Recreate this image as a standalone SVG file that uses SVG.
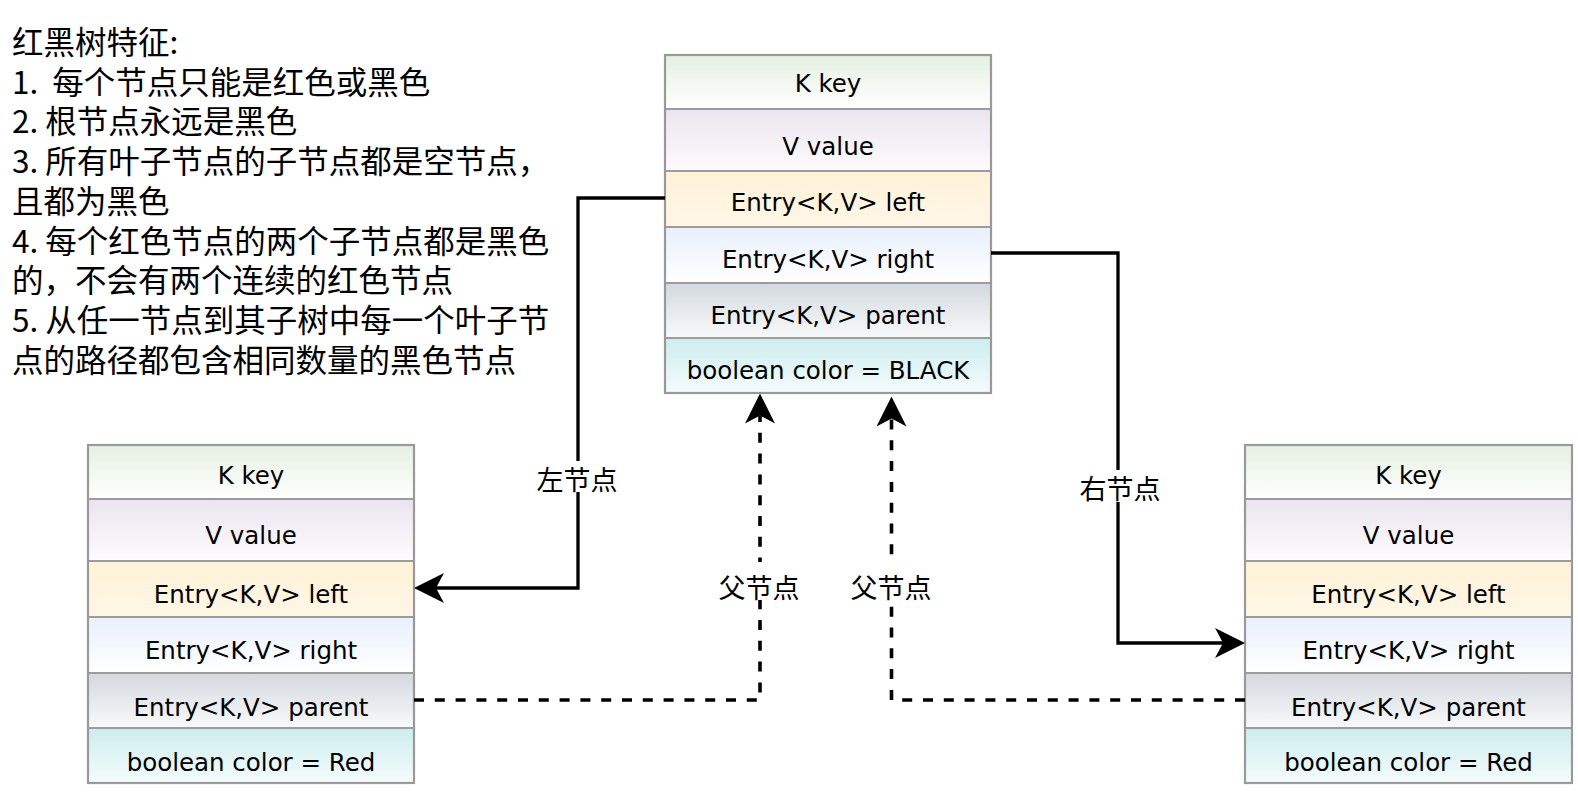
<svg xmlns="http://www.w3.org/2000/svg" width="1578" height="792" viewBox="0 0 1578 792">
<style>
.cell{font-family:"DejaVu Sans","Noto Sans",sans-serif;font-size:24.5px;fill:#000;text-anchor:middle}
.note{font-family:"Noto Sans CJK SC","Noto Sans",sans-serif;font-size:31.5px;fill:#000}
.lbl{font-family:"Noto Sans CJK SC","Noto Sans",sans-serif;font-size:27px;fill:#000;text-anchor:middle;dominant-baseline:central}
.sep{stroke:#9c9c9c;stroke-width:2;fill:none}
.border{stroke:#999;stroke-width:2.2;fill:none}
.solid{stroke:#000;stroke-width:3.3;fill:none}
.dash{stroke:#000;stroke-width:3.6;fill:none;stroke-dasharray:10 10.8}
</style>
<defs>
<linearGradient id="g1" x1="0" y1="0" x2="0" y2="1"><stop offset="0" stop-color="#e5f0e1"/><stop offset="1" stop-color="#ffffff"/></linearGradient>
<linearGradient id="g2" x1="0" y1="0" x2="0" y2="1"><stop offset="0" stop-color="#ebe4ef"/><stop offset="1" stop-color="#fdfcfd"/></linearGradient>
<linearGradient id="g3" x1="0" y1="0" x2="0" y2="1"><stop offset="0" stop-color="#fff2d7"/><stop offset="1" stop-color="#fff6e6"/></linearGradient>
<linearGradient id="g4" x1="0" y1="0" x2="0" y2="1"><stop offset="0" stop-color="#e8f0fc"/><stop offset="1" stop-color="#ffffff"/></linearGradient>
<linearGradient id="g5" x1="0" y1="0" x2="0" y2="1"><stop offset="0" stop-color="#d4d9df"/><stop offset="1" stop-color="#f8f9fa"/></linearGradient>
<linearGradient id="g6" x1="0" y1="0" x2="0" y2="1"><stop offset="0" stop-color="#cdedef"/><stop offset="1" stop-color="#f5fbfc"/></linearGradient>
<marker id="arr" viewBox="0 0 30 30" markerUnits="userSpaceOnUse" markerWidth="30" markerHeight="30" refX="8" refY="15" orient="auto">
<path d="M0,0 L30,15 L0,30 L8,15 Z" fill="#000" stroke="none"/>
</marker>
</defs>
<rect x="0" y="0" width="1578" height="792" fill="#fff"/>

<g id="notes">
<text class="note" xml:space="preserve"><tspan x="12" y="53.7">红黑树特征:</tspan><tspan x="12" y="93.5">1.  每个节点只能是红色或黑色</tspan><tspan x="12" y="133.2">2. 根节点永远是黑色</tspan><tspan x="12" y="173">3. 所有叶子节点的子节点都是空节点，</tspan><tspan x="12" y="212.7">且都为黑色</tspan><tspan x="12" y="252.5">4. 每个红色节点的两个子节点都是黑色</tspan><tspan x="12" y="292.2">的，不会有两个连续的红色节点</tspan><tspan x="12" y="332">5. 从任一节点到其子树中每一个叶子节</tspan><tspan x="12" y="371.7">点的路径都包含相同数量的黑色节点</tspan></text>
</g>

<g id="node-root">
<rect x="665" y="55" width="326" height="54" fill="url(#g1)"/>
<rect x="665" y="109" width="326" height="62" fill="url(#g2)"/>
<rect x="665" y="171" width="326" height="56" fill="url(#g3)"/>
<rect x="665" y="227" width="326" height="56" fill="url(#g4)"/>
<rect x="665" y="283" width="326" height="55" fill="url(#g5)"/>
<rect x="665" y="338" width="326" height="55" fill="url(#g6)"/>
<path class="sep" d="M665,109H991M665,171H991M665,227H991M665,283H991M665,338H991"/>
<rect class="border" x="665" y="55" width="326" height="338"/>
<text class="cell" x="828" y="92">K key</text>
<text class="cell" x="828" y="155">V value</text>
<text class="cell" x="828" y="210.5">Entry&lt;K,V&gt; left</text>
<text class="cell" x="828" y="267.5">Entry&lt;K,V&gt; right</text>
<text class="cell" x="828" y="323.5">Entry&lt;K,V&gt; parent</text>
<text class="cell" x="828" y="379">boolean color = BLACK</text>
</g>

<g id="node-left">
<rect x="88" y="445" width="326" height="54" fill="url(#g1)"/>
<rect x="88" y="499" width="326" height="62" fill="url(#g2)"/>
<rect x="88" y="561" width="326" height="56" fill="url(#g3)"/>
<rect x="88" y="617" width="326" height="56" fill="url(#g4)"/>
<rect x="88" y="673" width="326" height="55" fill="url(#g5)"/>
<rect x="88" y="728" width="326" height="55" fill="url(#g6)"/>
<path class="sep" d="M88,499H414M88,561H414M88,617H414M88,673H414M88,728H414"/>
<rect class="border" x="88" y="445" width="326" height="338"/>
<text class="cell" x="251" y="483.5">K key</text>
<text class="cell" x="251" y="543.5">V value</text>
<text class="cell" x="251" y="602.5">Entry&lt;K,V&gt; left</text>
<text class="cell" x="251" y="659">Entry&lt;K,V&gt; right</text>
<text class="cell" x="251" y="716">Entry&lt;K,V&gt; parent</text>
<text class="cell" x="251" y="771">boolean color = Red</text>
</g>

<g id="node-right">
<rect x="1245" y="445" width="327" height="54" fill="url(#g1)"/>
<rect x="1245" y="499" width="327" height="62" fill="url(#g2)"/>
<rect x="1245" y="561" width="327" height="56" fill="url(#g3)"/>
<rect x="1245" y="617" width="327" height="56" fill="url(#g4)"/>
<rect x="1245" y="673" width="327" height="55" fill="url(#g5)"/>
<rect x="1245" y="728" width="327" height="55" fill="url(#g6)"/>
<path class="sep" d="M1245,499H1572M1245,561H1572M1245,617H1572M1245,673H1572M1245,728H1572"/>
<rect class="border" x="1245" y="445" width="327" height="338"/>
<text class="cell" x="1408.5" y="483.5">K key</text>
<text class="cell" x="1408.5" y="543.5">V value</text>
<text class="cell" x="1408.5" y="602.5">Entry&lt;K,V&gt; left</text>
<text class="cell" x="1408.5" y="659">Entry&lt;K,V&gt; right</text>
<text class="cell" x="1408.5" y="716">Entry&lt;K,V&gt; parent</text>
<text class="cell" x="1408.5" y="771">boolean color = Red</text>
</g>

<g id="connectors">
<path class="solid" d="M665,198H578V588H436" marker-end="url(#arr)"/>
<path class="solid" d="M991,253H1118V643H1223" marker-end="url(#arr)"/>
<path class="dash" d="M414,700H760V415.5" marker-end="url(#arr)"/>
<path class="dash" d="M1245,700H891.5V418.5" marker-end="url(#arr)"/>
<rect x="534" y="461" width="88" height="31" fill="#fff"/>
<text class="lbl" x="577" y="478">左节点</text>
<rect x="1074" y="470" width="90" height="32" fill="#fff"/>
<text class="lbl" x="1120" y="487">右节点</text>
<rect x="715" y="562" width="88" height="38" fill="#fff"/>
<text class="lbl" x="759" y="586">父节点</text>
<rect x="847" y="562" width="88" height="38" fill="#fff"/>
<text class="lbl" x="891" y="586">父节点</text>
</g>
</svg>
